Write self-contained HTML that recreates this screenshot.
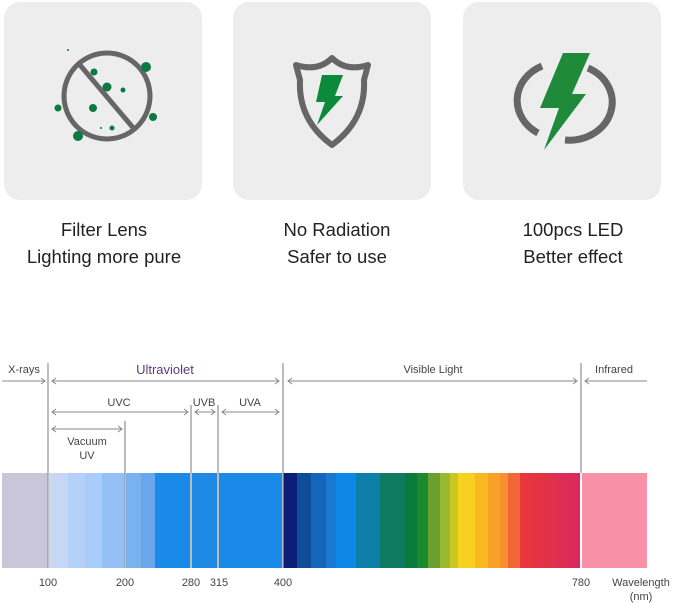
<!DOCTYPE html>
<html><head><style>
body{margin:0;background:#fff;width:679px;height:605px;overflow:hidden}
svg{display:block}
</style></head><body>
<svg width="679" height="605" xmlns="http://www.w3.org/2000/svg" font-family="Liberation Sans, sans-serif">
<rect x="4" y="2" width="198" height="198" rx="16" fill="#ededed"/>
<rect x="233" y="2" width="198" height="198" rx="16" fill="#ededed"/>
<rect x="463" y="2" width="198" height="198" rx="16" fill="#ededed"/>
<!-- icon 1 -->
<g fill="none" stroke="#666" stroke-width="5">
<ellipse cx="107" cy="96" rx="43" ry="43"/>
<line x1="80" y1="65" x2="135" y2="130"/>
</g>
<g fill="#0a7a40">
<circle cx="146" cy="67" r="5"/><circle cx="94" cy="72" r="3.5"/><circle cx="107" cy="87" r="4.5"/>
<circle cx="123" cy="90" r="2.5"/><circle cx="58" cy="108" r="3.5"/><circle cx="93" cy="108" r="4"/>
<circle cx="153" cy="117" r="4"/><circle cx="112" cy="128" r="2.5"/><circle cx="78" cy="136" r="5"/>
<circle cx="101" cy="128" r="1"/><circle cx="68" cy="50" r="1"/>
</g>
<!-- icon 2 shield -->
<path d="M296 65 Q318 72 332 58 Q346 72 368 65 L364 80 Q366 120 332 145 Q298 120 300 80 Z" fill="none" stroke="#666" stroke-width="6" stroke-linejoin="round"/>
<path d="M322 75 L343 75 L335 96 L343 96 L317 125 L325 102 L316 102 Z" fill="#0a8a3a"/>
<!-- icon 3 -->
<path d="M542 66 A43 38 0 0 0 538 133" fill="none" stroke="#666" stroke-width="7"/>
<path d="M588 68 A43 38 0 0 1 565 140" fill="none" stroke="#666" stroke-width="7"/>
<path d="M563 53 L590 53 L572 94 L586 94 L544 150 L559 108 L540 108 Z" fill="#1f8a3a"/>
<g font-size="18.5" fill="#222" text-anchor="middle">
<text x="104" y="236">Filter Lens</text><text x="104" y="263">Lighting more pure</text>
<text x="337" y="236">No Radiation</text><text x="337" y="263">Safer to use</text>
<text x="573" y="236">100pcs LED</text><text x="573" y="263">Better effect</text>
</g>
<!-- spectrum -->
<defs><linearGradient id="rd"><stop offset="0" stop-color="#e83838"/><stop offset="1" stop-color="#d82a60"/></linearGradient></defs>
<g>
<rect x="2" y="473" width="46" height="95" fill="#c8c6d8"/>
<rect x="49" y="473" width="19" height="95" fill="#c5d7f3"/>
<rect x="68" y="473" width="17" height="95" fill="#b5d0f7"/>
<rect x="85" y="473" width="17" height="95" fill="#a9cdfa"/>
<rect x="102" y="473" width="23" height="95" fill="#94c0f5"/>
<rect x="126" y="473" width="15" height="95" fill="#7ab2f0"/>
<rect x="141" y="473" width="14" height="95" fill="#6aa6eb"/>
<rect x="155" y="473" width="35" height="95" fill="#1a8ae8"/>
<rect x="192" y="473" width="25" height="95" fill="#1e8ae6"/>
<rect x="219" y="473" width="63" height="95" fill="#1a8ae8"/>
<rect x="283" y="473" width="14" height="95" fill="#0c1f78"/>
<rect x="297" y="473" width="14" height="95" fill="#0f4d98"/>
<rect x="311" y="473" width="15" height="95" fill="#1466b8"/>
<rect x="326" y="473" width="10" height="95" fill="#1a78d0"/>
<rect x="336" y="473" width="20" height="95" fill="#0d88e8"/>
<rect x="356" y="473" width="24" height="95" fill="#0d7fa8"/>
<rect x="380" y="473" width="25" height="95" fill="#0e7a60"/>
<rect x="405" y="473" width="12" height="95" fill="#0a7a3a"/>
<rect x="417" y="473" width="11" height="95" fill="#1a8a30"/>
<rect x="428" y="473" width="12" height="95" fill="#6aa030"/>
<rect x="440" y="473" width="10" height="95" fill="#9ab830"/>
<rect x="450" y="473" width="8" height="95" fill="#c8c820"/>
<rect x="458" y="473" width="17" height="95" fill="#f8d020"/>
<rect x="475" y="473" width="13" height="95" fill="#f8b820"/>
<rect x="488" y="473" width="12" height="95" fill="#f8a028"/>
<rect x="500" y="473" width="8" height="95" fill="#f89030"/>
<rect x="508" y="473" width="12" height="95" fill="#f06838"/>
<rect x="520" y="473" width="60" height="95" fill="url(#rd)"/>
<rect x="582" y="473" width="65" height="95" fill="#f891a8"/>
</g>
<g stroke="#999" stroke-width="1.3">
<line x1="48" y1="363" x2="48" y2="568"/><line x1="125" y1="421" x2="125" y2="568"/>
<line x1="191" y1="405" x2="191" y2="568"/><line x1="218" y1="405" x2="218" y2="568"/>
<line x1="283" y1="363" x2="283" y2="568"/><line x1="581" y1="363" x2="581" y2="473"/>
</g>
<g stroke="#888" stroke-width="1" fill="none">
<line x1="2" y1="381" x2="45" y2="381"/><path d="M41 378 L45 381 L41 384"/>
<line x1="52" y1="381" x2="279" y2="381"/><path d="M56 378 L52 381 L56 384 M275 378 L279 381 L275 384"/>
<line x1="288" y1="381" x2="577" y2="381"/><path d="M292 378 L288 381 L292 384 M573 378 L577 381 L573 384"/>
<line x1="585" y1="381" x2="647" y2="381"/><path d="M589 378 L585 381 L589 384"/>
<line x1="52" y1="412" x2="188" y2="412"/><path d="M56 409 L52 412 L56 415 M184 409 L188 412 L184 415"/>
<line x1="195" y1="412" x2="215" y2="412"/><path d="M199 409 L195 412 L199 415 M211 409 L215 412 L211 415"/>
<line x1="222" y1="412" x2="279" y2="412"/><path d="M226 409 L222 412 L226 415 M275 409 L279 412 L275 415"/>
<line x1="52" y1="429" x2="122" y2="429"/><path d="M56 426 L52 429 L56 432 M118 426 L122 429 L118 432"/>
</g>
<g font-size="11" fill="#444" text-anchor="middle">
<text x="24" y="373">X-rays</text>
<text x="165" y="374" font-size="13" fill="#5a3a80">Ultraviolet</text>
<text x="433" y="373">Visible Light</text>
<text x="614" y="373">Infrared</text>
<text x="119" y="406">UVC</text><text x="204" y="406">UVB</text><text x="250" y="406">UVA</text>
<text x="87" y="445">Vacuum</text><text x="87" y="459">UV</text>
<text x="48" y="586">100</text><text x="125" y="586">200</text><text x="191" y="586">280</text>
<text x="219" y="586">315</text><text x="283" y="586">400</text><text x="581" y="586">780</text>
<text x="641" y="586">Wavelength</text><text x="641" y="600">(nm)</text>
</g>
</svg>
</body></html>
